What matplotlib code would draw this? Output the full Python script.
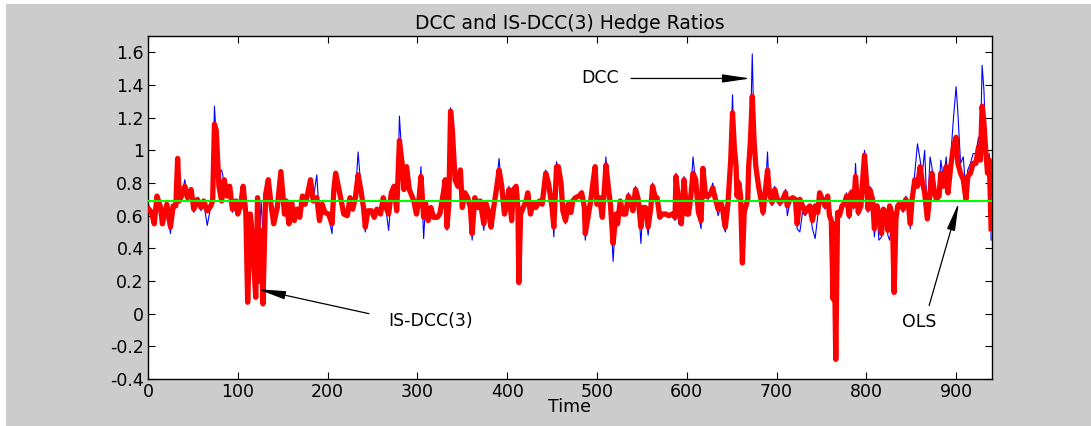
import matplotlib
matplotlib.use("Agg")
import matplotlib.pyplot as plt
from matplotlib.patches import Rectangle
from matplotlib.ticker import FormatStrFormatter

# time index of the sampled points
time = [
    1, 4, 7, 10, 14, 16, 21, 25, 28, 31,
    33, 35, 38, 41, 44, 48, 51, 55, 59, 62,
    66, 70, 72, 74, 76, 79, 82, 85, 88, 91,
    94, 98, 100, 103, 106, 109, 111, 114, 117, 120,
    122, 124, 126, 128, 131, 134, 137, 140, 144, 148,
    152, 154, 157, 160, 163, 166, 169, 172, 175, 178,
    181, 184, 188, 191, 194, 197, 201, 205, 207, 209,
    212, 216, 218, 222, 225, 228, 231, 234, 237, 240,
    242, 245, 249, 252, 255, 259, 262, 265, 268, 271,
    274, 277, 279, 280, 283, 285, 288, 291, 294, 296,
    299, 302, 304, 307, 309, 312, 315, 318, 322, 325,
    329, 331, 333, 335, 337, 339, 342, 345, 348, 350,
    353, 356, 359, 361, 364, 367, 370, 374, 376, 379,
    382, 385, 388, 391, 394, 397, 400, 402, 405, 407,
    410, 412, 413, 415, 418, 421, 423, 426, 429, 432,
    436, 439, 443, 446, 450, 452, 455, 457, 460, 462,
    465, 468, 471, 473, 476, 480, 483, 486, 487, 490,
    493, 496, 498, 500, 503, 506, 509, 510, 513, 515,
    518, 521, 523, 526, 529, 532, 535, 538, 540, 543,
    546, 549, 551, 554, 557, 560, 562, 565, 567, 570,
    573, 577, 580, 584, 587, 588, 591, 594, 597, 600,
    602, 604, 607, 610, 613, 616, 618, 621, 624, 627,
    629, 632, 635, 638, 640, 643, 646, 649, 651, 653,
    655, 656, 658, 660, 662, 664, 666, 668, 669, 671,
    673, 675, 677, 680, 682, 685, 687, 690, 692, 695,
    698, 701, 704, 707, 710, 712, 715, 718, 721, 723,
    726, 729, 732, 734, 737, 740, 743, 746, 748, 751,
    754, 757, 759, 761, 763, 764, 766, 768, 770, 773,
    776, 778, 781, 783, 786, 788, 791, 794, 796, 798,
    800, 802, 804, 807, 809, 812, 814, 817, 819, 822,
    824, 826, 829, 831, 833, 835, 838, 841, 844, 847,
    849, 851, 854, 857, 860, 862, 865, 868, 871, 873,
    876, 878, 881, 883, 886, 889, 891, 894, 897, 900,
    902, 905, 908, 911, 913, 916, 919, 922, 925, 927,
    929, 931, 933, 935, 937, 939,
]

# IS-DCC(3) hedge ratio (thick red)
is_dcc = [
    0.64, 0.62, 0.55, 0.72, 0.65, 0.55, 0.67, 0.53, 0.66, 0.66,
    0.95, 0.69, 0.73, 0.78, 0.71, 0.76, 0.64, 0.70, 0.65, 0.69,
    0.63, 0.66, 0.69, 1.16, 1.12, 0.78, 0.69, 0.82, 0.72, 0.78,
    0.64, 0.69, 0.61, 0.66, 0.78, 0.61, 0.07, 0.61, 0.39, 0.10,
    0.71, 0.20, 0.51, 0.06, 0.73, 0.82, 0.67, 0.55, 0.65, 0.87,
    0.61, 0.69, 0.55, 0.68, 0.57, 0.64, 0.59, 0.72, 0.67, 0.74,
    0.82, 0.69, 0.71, 0.57, 0.67, 0.62, 0.61, 0.55, 0.76, 0.86,
    0.78, 0.67, 0.61, 0.60, 0.71, 0.64, 0.71, 0.85, 0.76, 0.65,
    0.53, 0.63, 0.63, 0.59, 0.64, 0.61, 0.71, 0.65, 0.61, 0.74,
    0.78, 0.63, 0.92, 1.06, 0.92, 0.76, 0.90, 0.76, 0.72, 0.69,
    0.61, 0.71, 0.84, 0.59, 0.68, 0.57, 0.65, 0.59, 0.59, 0.61,
    0.74, 0.82, 0.53, 0.67, 1.24, 1.12, 0.82, 0.78, 0.88, 0.65,
    0.74, 0.71, 0.65, 0.49, 0.71, 0.65, 0.69, 0.55, 0.68, 0.63,
    0.53, 0.65, 0.76, 0.88, 0.78, 0.61, 0.67, 0.76, 0.57, 0.76,
    0.78, 0.65, 0.19, 0.61, 0.65, 0.69, 0.74, 0.61, 0.68, 0.65,
    0.69, 0.67, 0.86, 0.80, 0.65, 0.53, 0.90, 0.90, 0.80, 0.63,
    0.57, 0.67, 0.62, 0.69, 0.71, 0.72, 0.74, 0.65, 0.49, 0.59,
    0.69, 0.82, 0.90, 0.67, 0.71, 0.59, 0.82, 0.91, 0.76, 0.67,
    0.43, 0.61, 0.55, 0.69, 0.61, 0.61, 0.72, 0.69, 0.63, 0.76,
    0.70, 0.53, 0.65, 0.65, 0.53, 0.65, 0.78, 0.71, 0.71, 0.59,
    0.61, 0.61, 0.60, 0.61, 0.59, 0.84, 0.69, 0.55, 0.82, 0.61,
    0.61, 0.69, 0.86, 0.82, 0.62, 0.57, 0.89, 0.72, 0.72, 0.74,
    0.77, 0.70, 0.64, 0.68, 0.64, 0.53, 0.68, 0.94, 1.23, 1.02,
    0.90, 0.72, 0.80, 0.72, 0.31, 0.62, 0.66, 0.70, 0.90, 1.06,
    1.33, 1.06, 0.90, 0.78, 0.72, 0.62, 0.72, 0.88, 0.74, 0.68,
    0.76, 0.70, 0.68, 0.70, 0.74, 0.66, 0.70, 0.71, 0.70, 0.55,
    0.70, 0.66, 0.62, 0.64, 0.66, 0.57, 0.66, 0.62, 0.74, 0.70,
    0.66, 0.72, 0.60, 0.57, 0.09, 0.55, -0.28, 0.62, 0.60, 0.66,
    0.68, 0.72, 0.60, 0.74, 0.66, 0.84, 0.62, 0.66, 0.82, 0.97,
    0.82, 0.64, 0.76, 0.70, 0.52, 0.66, 0.60, 0.49, 0.64, 0.62,
    0.51, 0.66, 0.60, 0.13, 0.58, 0.66, 0.68, 0.64, 0.70, 0.66,
    0.55, 0.70, 0.82, 0.78, 0.90, 0.82, 0.74, 0.58, 0.74, 0.86,
    0.74, 0.70, 0.72, 0.86, 0.78, 0.90, 0.74, 0.90, 1.02, 1.08,
    0.92, 0.86, 0.82, 0.70, 0.84, 0.86, 0.92, 0.92, 1.02, 0.94,
    1.27, 1.17, 1.00, 0.86, 0.94, 0.52,
]

# DCC hedge ratio (thin blue)
dcc = [
    0.66, 0.60, 0.56, 0.70, 0.64, 0.54, 0.68, 0.49, 0.66, 0.67,
    0.90, 0.72, 0.74, 0.82, 0.70, 0.74, 0.62, 0.70, 0.63, 0.68,
    0.54, 0.66, 0.70, 1.27, 1.08, 0.86, 0.88, 0.80, 0.72, 0.76,
    0.62, 0.68, 0.60, 0.66, 0.76, 0.62, 0.45, 0.62, 0.55, 0.45,
    0.70, 0.45, 0.69, 0.50, 0.72, 0.80, 0.66, 0.56, 0.64, 0.85,
    0.60, 0.70, 0.56, 0.67, 0.58, 0.62, 0.60, 0.72, 0.66, 0.75,
    0.80, 0.70, 0.85, 0.58, 0.66, 0.63, 0.60, 0.49, 0.74, 0.84,
    0.80, 0.66, 0.60, 0.61, 0.70, 0.63, 0.72, 0.99, 0.78, 0.64,
    0.50, 0.62, 0.62, 0.58, 0.64, 0.60, 0.70, 0.64, 0.51, 0.72,
    0.76, 0.62, 0.96, 1.21, 0.94, 0.78, 0.88, 0.74, 0.71, 0.68,
    0.62, 0.72, 0.90, 0.46, 0.66, 0.56, 0.64, 0.58, 0.60, 0.62,
    0.72, 0.80, 0.51, 0.68, 1.26, 1.10, 0.80, 0.77, 0.86, 0.64,
    0.73, 0.70, 0.64, 0.45, 0.70, 0.64, 0.68, 0.51, 0.67, 0.62,
    0.52, 0.64, 0.78, 0.95, 0.76, 0.60, 0.66, 0.78, 0.56, 0.74,
    0.76, 0.64, 0.62, 0.60, 0.64, 0.70, 0.73, 0.60, 0.67, 0.64,
    0.68, 0.66, 0.88, 0.78, 0.64, 0.47, 0.93, 0.88, 0.78, 0.62,
    0.55, 0.66, 0.61, 0.70, 0.70, 0.71, 0.75, 0.64, 0.45, 0.58,
    0.68, 0.84, 0.88, 0.66, 0.70, 0.58, 0.86, 0.96, 0.74, 0.66,
    0.32, 0.60, 0.54, 0.68, 0.60, 0.60, 0.74, 0.68, 0.62, 0.78,
    0.69, 0.43, 0.64, 0.64, 0.48, 0.64, 0.80, 0.70, 0.70, 0.58,
    0.60, 0.60, 0.59, 0.60, 0.57, 0.86, 0.55, 0.54, 0.84, 0.60,
    0.60, 0.70, 0.96, 0.80, 0.60, 0.52, 0.90, 0.71, 0.70, 0.76,
    0.80, 0.68, 0.60, 0.66, 0.55, 0.50, 0.66, 0.98, 1.34, 1.00,
    0.88, 0.70, 0.82, 0.70, 0.55, 0.60, 0.64, 0.72, 0.95, 1.12,
    1.59, 1.10, 0.92, 0.80, 0.70, 0.60, 0.70, 0.99, 0.72, 0.66,
    0.78, 0.68, 0.66, 0.72, 0.76, 0.60, 0.68, 0.70, 0.68, 0.52,
    0.50, 0.62, 0.60, 0.62, 0.64, 0.52, 0.46, 0.60, 0.72, 0.68,
    0.64, 0.70, 0.58, 0.52, 0.45, 0.50, 0.40, 0.58, 0.60, 0.64,
    0.66, 0.74, 0.58, 0.76, 0.64, 0.92, 0.60, 0.64, 0.84, 1.00,
    0.84, 0.62, 0.78, 0.68, 0.47, 0.64, 0.45, 0.47, 0.62, 0.60,
    0.48, 0.45, 0.58, 0.55, 0.56, 0.64, 0.66, 0.62, 0.72, 0.68,
    0.52, 0.72, 0.86, 1.04, 0.94, 0.84, 1.00, 0.60, 0.96, 0.90,
    0.78, 0.72, 0.76, 0.94, 0.82, 0.96, 0.78, 0.96, 1.19, 1.39,
    1.23, 0.92, 0.96, 0.74, 0.88, 0.92, 0.98, 0.98, 1.08, 1.00,
    1.52, 1.37, 1.06, 0.90, 0.98, 0.45,
]

ols_ratio = 0.69
ols_span = [1, 940]

x_ticks = [0, 100, 200, 300, 400, 500, 600, 700, 800, 900]
y_ticks = [-0.4, -0.2, 0, 0.2, 0.4, 0.6, 0.8, 1, 1.2, 1.4, 1.6]

plt.rcParams["font.family"] = ["DejaVu Sans"]

fig = plt.figure(figsize=(10.91, 4.26), dpi=100, facecolor="white")
# matlab style grey figure area
fig.add_artist(Rectangle((6 / 1091, 0), 1, 422 / 426, transform=fig.transFigure,
                         facecolor="#cccccc", edgecolor="none", zorder=-10))

ax = fig.add_axes([148 / 1091, 47 / 426, 844 / 1091, 343 / 426])
ax.set_facecolor("white")

ax.plot(time, dcc, color="#0000ff", lw=0.8, zorder=2)
ax.plot(time, is_dcc, color="#ff0000", lw=3.8, zorder=3, solid_joinstyle="round")
ax.plot(ols_span, [ols_ratio, ols_ratio], color="#00ff00", lw=1.5, zorder=4)

ax.set_xlim(0, 940)
ax.set_ylim(-0.4, 1.7)
ax.set_xticks(x_ticks)
ax.set_yticks(y_ticks)
ax.yaxis.set_major_formatter(FormatStrFormatter("%g"))
ax.tick_params(direction="in", top=True, right=True, length=5, width=0.8,
               labelsize=12.5, pad=3)
for s in ax.spines.values():
    s.set_linewidth(1.0)

ax.set_title("DCC and IS-DCC(3) Hedge Ratios", fontsize=13.5, pad=5)
ax.set_xlabel("Time", fontsize=12.5, labelpad=-2)

arrow = dict(arrowstyle="-|>,head_length=1.7,head_width=0.25", color="black",
             lw=0.9, shrinkA=0, shrinkB=0)

ax.text(503, 1.44, "DCC", ha="center", va="center", fontsize=12.5)
ax.annotate("", xy=(671, 1.44), xytext=(538, 1.44), arrowprops=arrow)

ax.text(268, -0.045, "IS-DCC(3)", ha="left", va="center", fontsize=12.5)
ax.annotate("", xy=(122, 0.15), xytext=(246, 0.0), arrowprops=arrow)

ax.text(859, -0.05, "OLS", ha="center", va="center", fontsize=12.5)
ax.annotate("", xy=(903, 0.68), xytext=(870, 0.05), arrowprops=arrow)

fig.savefig("out.png", dpi=100, facecolor=fig.get_facecolor())
